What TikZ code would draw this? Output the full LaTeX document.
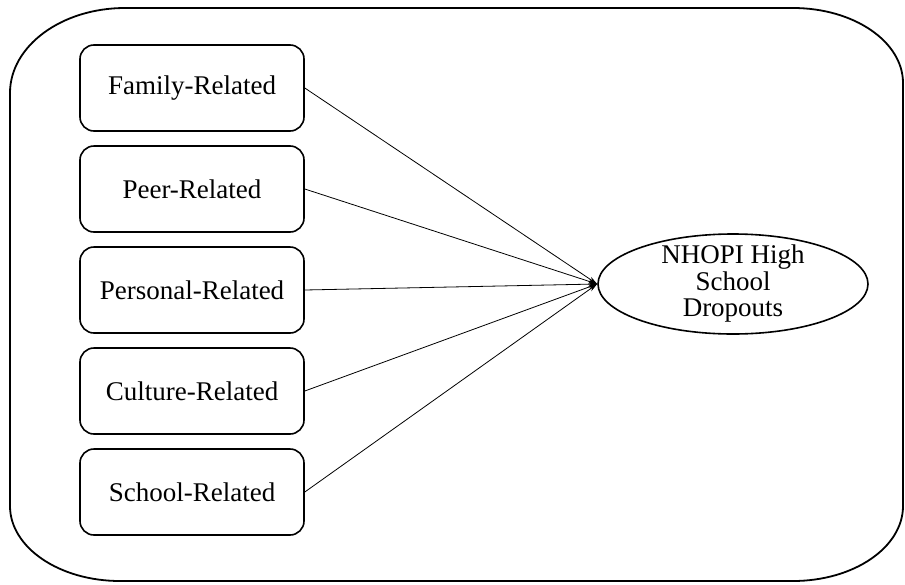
\documentclass[tikz,border=0pt]{standalone}
\usepackage{fontspec}
\setmainfont{Liberation Serif}
\usetikzlibrary{shapes.geometric,arrows.meta}
\begin{document}
\begin{tikzpicture}[x=1pt,y=-1pt]
\tikzstyle{every node}=[font=\fontsize{27}{26.5}\selectfont];
\tikzstyle{factor}=[draw,line width=1.6pt,rounded corners=14pt,minimum width=224pt,minimum height=86pt];
\tikzstyle{outcome}=[draw,ellipse,line width=1.6pt,align=center,minimum width=270pt,minimum height=100pt,inner xsep=0pt,inner ysep=-8pt];
\tikzstyle{link}=[line width=0.8pt,-{Stealth[length=9pt,width=5pt]}];
\useasboundingbox (0,0) rectangle (905,584);
\draw[line width=1.8pt] (125,8) -- (793,8) arc[start angle=-90,end angle=0,x radius=110,y radius=75]
	-- (903,506) arc[start angle=0,end angle=90,x radius=110,y radius=75]
	-- (120,581) arc[start angle=90,end angle=180,x radius=110,y radius=75]
	-- (10,93) arc[start angle=180,end angle=270,x radius=115,y radius=85] -- cycle;
\node[factor] (family) at (192,88) {Family-Related};
\node[factor] (peer) at (192,189) {Peer-Related};
\node[factor] (personal) at (192,290) {Personal-Related};
\node[factor] (culture) at (192,391) {Culture-Related};
\node[factor] (school) at (192,492) {School-Related};
\node[outcome] (dropouts) at (733,284) {NHOPI High\\School\\Dropouts};
\draw[link] (family.east) -- (dropouts.west);
\draw[link] (peer.east) -- (dropouts.west);
\draw[link] (personal.east) -- (dropouts.west);
\draw[link] (culture.east) -- (dropouts.west);
\draw[link] (school.east) -- (dropouts.west);
\end{tikzpicture}
\end{document}
